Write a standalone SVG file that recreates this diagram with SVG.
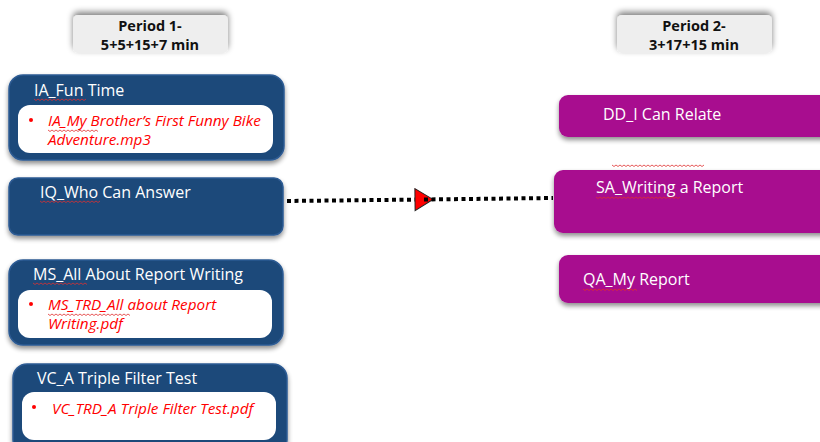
<svg xmlns="http://www.w3.org/2000/svg" width="820" height="442" viewBox="0 0 820 442">
<defs>
<filter id="sh" x="-10%" y="-20%" width="120%" height="150%">
<feGaussianBlur in="SourceAlpha" stdDeviation="2.5"/>
<feOffset dx="0" dy="3" result="b"/>
<feComponentTransfer><feFuncA type="linear" slope="0.45"/></feComponentTransfer>
<feMerge><feMergeNode/><feMergeNode in="SourceGraphic"/></feMerge>
</filter>
<filter id="shu" x="-10%" y="-40%" width="120%" height="160%">
<feGaussianBlur in="SourceAlpha" stdDeviation="3"/>
<feOffset dx="0" dy="-3" result="b"/>
<feComponentTransfer><feFuncA type="linear" slope="0.5"/></feComponentTransfer>
<feMerge><feMergeNode/><feMergeNode in="SourceGraphic"/></feMerge>
</filter>
<marker id="tri" viewBox="0 0 20 24" refX="10" refY="12" markerWidth="20" markerHeight="24" markerUnits="userSpaceOnUse" orient="auto">
<path d="M1,1 L19,12 L1,23 Z" fill="#ff0000" stroke="#222" stroke-width="1"/>
</marker>
</defs>
<style>
.blue{fill:#1f4a7a;stroke:#2d5b94;stroke-width:1.5}
.purple{fill:#a8118f}
.inner{fill:#ffffff}
.hdr{fill:#eeeeee}
.t{font-family:"Open Sans","Liberation Sans",sans-serif;font-size:16px;fill:#ffffff}
.h{font-family:"Open Sans","Liberation Sans",sans-serif;font-size:14.5px;font-weight:bold;fill:#111111;text-anchor:middle}
.b{font-family:"Open Sans","Liberation Sans",sans-serif;font-size:15.3px;font-style:italic;fill:#ff0000}
.dot{fill:#ff0000}
.sq{fill:none;stroke:#e03030;stroke-width:0.8}
</style>
<rect width="820" height="442" fill="#ffffff"/>
<g id="period1">
<rect class="hdr" x="73" y="15" width="155" height="38" rx="5" filter="url(#shu)"/>
<text class="h" x="150" y="31">Period 1-</text>
<text class="h" x="150" y="50">5+5+15+7 min</text>
</g>
<g id="period2">
<rect class="hdr" x="617" y="15" width="155" height="38" rx="5" filter="url(#shu)"/>
<text class="h" x="694" y="31">Period 2-</text>
<text class="h" x="694" y="50">3+17+15 min</text>
</g>
<g id="connectors">
<line x1="287" y1="201" x2="424" y2="199.5" stroke="#000" stroke-width="4" stroke-dasharray="4,3.5" marker-end="url(#tri)"/>
<line x1="424" y1="199.5" x2="553" y2="198" stroke="#000" stroke-width="4" stroke-dasharray="4,3.5"/>
</g>
<g id="ia">
<rect class="blue" x="9" y="75" width="275" height="85" rx="14" filter="url(#sh)"/>
<rect class="inner" x="18" y="105" width="255" height="48" rx="12"/>
<text class="t" x="34" y="96">IA_Fun Time</text>
<circle class="dot" cx="31" cy="120" r="2"/>
<text class="b" x="48" y="126">IA_My Brother’s First Funny Bike</text>
<text class="b" x="48" y="145">Adventure.mp3</text>
</g>
<g id="iq">
<rect class="blue" x="9" y="178" width="274" height="57" rx="9" filter="url(#sh)"/>
<text class="t" x="40" y="198">IQ_Who Can Answer</text>
</g>
<g id="ms">
<rect class="blue" x="9" y="260" width="274" height="85" rx="14" filter="url(#sh)"/>
<rect class="inner" x="18" y="290" width="254" height="48" rx="12"/>
<text class="t" x="33" y="280">MS_All About Report Writing</text>
<circle class="dot" cx="31" cy="304" r="2"/>
<text class="b" x="48" y="310">MS_TRD_All about Report</text>
<text class="b" x="48" y="329">Writing.pdf</text>
</g>
<g id="vc">
<rect class="blue" x="13" y="364" width="274" height="90" rx="14" filter="url(#sh)"/>
<rect class="inner" x="22" y="392" width="254" height="48" rx="12"/>
<text class="t" x="37" y="384">VC_A Triple Filter Test</text>
<circle class="dot" cx="34" cy="407" r="2"/>
<text class="b" x="52" y="414">VC_TRD_A Triple Filter Test.pdf</text>
</g>
<g id="dd">
<rect class="purple" x="559" y="95" width="280" height="42" rx="9" filter="url(#sh)"/>
<text class="t" x="603" y="120">DD_I Can Relate</text>
</g>
<g id="sa">
<rect class="purple" x="554" y="170" width="285" height="63" rx="9" filter="url(#sh)"/>
<text class="t" x="596" y="193">SA_Writing a Report</text>
</g>
<g id="qa">
<rect class="purple" x="559" y="255" width="280" height="48" rx="9" filter="url(#sh)"/>
<text class="t" x="583" y="285">QA_My Report</text>
</g>
<g id="spell">
<path class="sq" d="M34,99 l2,1.5 l2,-1.5 l2,1.5 l2,-1.5 l2,1.5 l2,-1.5 l2,1.5 l2,-1.5 l2,1.5 l2,-1.5 l2,1.5 l2,-1.5 l2,1.5 l2,-1.5 l2,1.5 l2,-1.5 l2,1.5 l2,-1.5 l2,1.5 l2,-1.5 l2,1.5 l2,-1.5 l2,1.5 l2,-1.5 l2,1.5 l2,-1.5"/>
<path class="sq" d="M40,201 l2,1.5 l2,-1.5 l2,1.5 l2,-1.5 l2,1.5 l2,-1.5 l2,1.5 l2,-1.5 l2,1.5 l2,-1.5 l2,1.5 l2,-1.5 l2,1.5 l2,-1.5 l2,1.5 l2,-1.5 l2,1.5 l2,-1.5 l2,1.5 l2,-1.5 l2,1.5 l2,-1.5 l2,1.5 l2,-1.5 l2,1.5 l2,-1.5 l2,1.5 l2,-1.5 l2,1.5 l2,-1.5"/>
<path class="sq" d="M33,283 l2,1.5 l2,-1.5 l2,1.5 l2,-1.5 l2,1.5 l2,-1.5 l2,1.5 l2,-1.5 l2,1.5 l2,-1.5 l2,1.5 l2,-1.5 l2,1.5 l2,-1.5 l2,1.5 l2,-1.5 l2,1.5 l2,-1.5 l2,1.5 l2,-1.5 l2,1.5 l2,-1.5 l2,1.5 l2,-1.5 l2,1.5 l2,-1.5 l2,1.5"/>
<path class="sq" d="M48,130 l2,1.5 l2,-1.5 l2,1.5 l2,-1.5 l2,1.5 l2,-1.5 l2,1.5 l2,-1.5 l2,1.5 l2,-1.5 l2,1.5 l2,-1.5 l2,1.5 l2,-1.5 l2,1.5 l2,-1.5 l2,1.5 l2,-1.5 l2,1.5 l2,-1.5 l2,1.5 l2,-1.5 l2,1.5 l2,-1.5 l2,1.5"/>
<path class="sq" d="M48,314 l2,1.5 l2,-1.5 l2,1.5 l2,-1.5 l2,1.5 l2,-1.5 l2,1.5 l2,-1.5 l2,1.5 l2,-1.5 l2,1.5 l2,-1.5 l2,1.5 l2,-1.5 l2,1.5 l2,-1.5 l2,1.5 l2,-1.5 l2,1.5 l2,-1.5 l2,1.5 l2,-1.5 l2,1.5 l2,-1.5 l2,1.5 l2,-1.5 l2,1.5 l2,-1.5 l2,1.5 l2,-1.5 l2,1.5 l2,-1.5 l2,1.5 l2,-1.5 l2,1.5 l2,-1.5 l2,1.5 l2,-1.5 l2,1.5 l2,-1.5 l2,1.5"/>
<path class="sq" d="M612,165 l2,1.5 l2,-1.5 l2,1.5 l2,-1.5 l2,1.5 l2,-1.5 l2,1.5 l2,-1.5 l2,1.5 l2,-1.5 l2,1.5 l2,-1.5 l2,1.5 l2,-1.5 l2,1.5 l2,-1.5 l2,1.5 l2,-1.5 l2,1.5 l2,-1.5 l2,1.5 l2,-1.5 l2,1.5 l2,-1.5 l2,1.5 l2,-1.5 l2,1.5 l2,-1.5 l2,1.5 l2,-1.5 l2,1.5 l2,-1.5 l2,1.5 l2,-1.5 l2,1.5 l2,-1.5 l2,1.5 l2,-1.5 l2,1.5 l2,-1.5 l2,1.5 l2,-1.5 l2,1.5 l2,-1.5 l2,1.5 l2,-1.5"/>
<path class="sq" d="M596,197 l2,1.5 l2,-1.5 l2,1.5 l2,-1.5 l2,1.5 l2,-1.5 l2,1.5 l2,-1.5 l2,1.5 l2,-1.5 l2,1.5 l2,-1.5 l2,1.5 l2,-1.5 l2,1.5 l2,-1.5 l2,1.5 l2,-1.5 l2,1.5 l2,-1.5 l2,1.5 l2,-1.5 l2,1.5 l2,-1.5 l2,1.5 l2,-1.5 l2,1.5 l2,-1.5 l2,1.5 l2,-1.5 l2,1.5 l2,-1.5 l2,1.5 l2,-1.5 l2,1.5 l2,-1.5 l2,1.5 l2,-1.5 l2,1.5 l2,-1.5 l2,1.5 l2,-1.5"/>
<path class="sq" d="M583,289 l2,1.5 l2,-1.5 l2,1.5 l2,-1.5 l2,1.5 l2,-1.5 l2,1.5 l2,-1.5 l2,1.5 l2,-1.5 l2,1.5 l2,-1.5 l2,1.5 l2,-1.5 l2,1.5 l2,-1.5 l2,1.5 l2,-1.5 l2,1.5 l2,-1.5 l2,1.5 l2,-1.5 l2,1.5 l2,-1.5 l2,1.5 l2,-1.5 l2,1.5"/>
</g>
</svg>
